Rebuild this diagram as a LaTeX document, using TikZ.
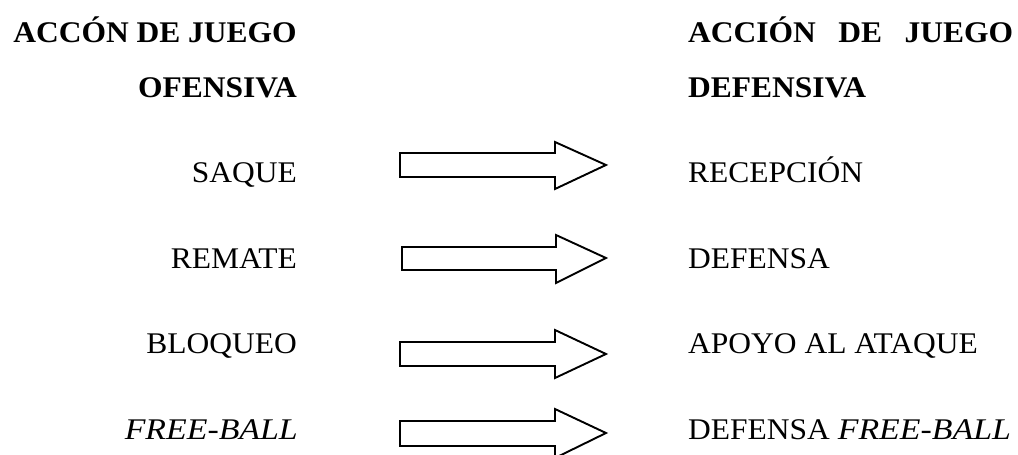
\documentclass[tikz,border=0pt]{standalone}
\usepackage{fontspec}
\setmainfont[FakeStretch=1.05]{Liberation Serif}
\newcommand{\fbital}{\scalebox{1.075}[1]{\textit{FREE-BALL}}}
\begin{document}
\begin{tikzpicture}[x=1pt,y=-1pt,
  txt/.style={font=\fontsize{30}{36}\selectfont, inner sep=0pt},
  ttl/.style={inner sep=0pt, font=\fontsize{30}{36}\selectfont\bfseries},
  blockarrow/.style={draw=black, line width=1.9pt, line join=miter}]
\useasboundingbox (0,0) rectangle (1018,455);
% titles
\node[ttl, anchor=base east] (tl1) at (297,42) {ACCÓN DE JUEGO};
\node[ttl, anchor=base east] (tl2) at (297,97) {OFENSIVA};
\node[ttl, anchor=base west] (tr1) at (688,42) {\makebox[325pt][l]{ACCIÓN\hfill DE\hfill JUEGO}};
\node[ttl, anchor=base west] (tr2) at (688,97) {DEFENSIVA};
% left column
\node[txt, anchor=base east] (l1) at (297,182) {SAQUE};
\node[txt, anchor=base east] (l2) at (297,268) {REMATE};
\node[txt, anchor=base east] (l3) at (297,353) {BLOQUEO};
\node[txt, anchor=base east] (l4) at (298,439) {\fbital};
% right column
\node[txt, anchor=base west] (r1) at (688,182) {RECEPCIÓN};
\node[txt, anchor=base west] (r2) at (688,268) {DEFENSA};
\node[txt, anchor=base west] (r3) at (688,353) {APOYO AL ATAQUE};
\node[txt, anchor=base west] (r4) at (688,439) {DEFENSA \fbital};
% block arrows
\draw[blockarrow] (400,153) -- (555,153) -- (555,142) -- (606,165) -- (555,189) -- (555,177) -- (400,177) -- cycle;
\draw[blockarrow] (402,247) -- (556,247) -- (556,235) -- (606,258) -- (556,283) -- (556,270) -- (402,270) -- cycle;
\draw[blockarrow] (400,342) -- (555,342) -- (555,330) -- (606,354) -- (555,378) -- (555,366) -- (400,366) -- cycle;
\draw[blockarrow] (400,421) -- (555,421) -- (555,409) -- (606,433) -- (555,458) -- (555,446) -- (400,446) -- cycle;
\end{tikzpicture}
\end{document}
